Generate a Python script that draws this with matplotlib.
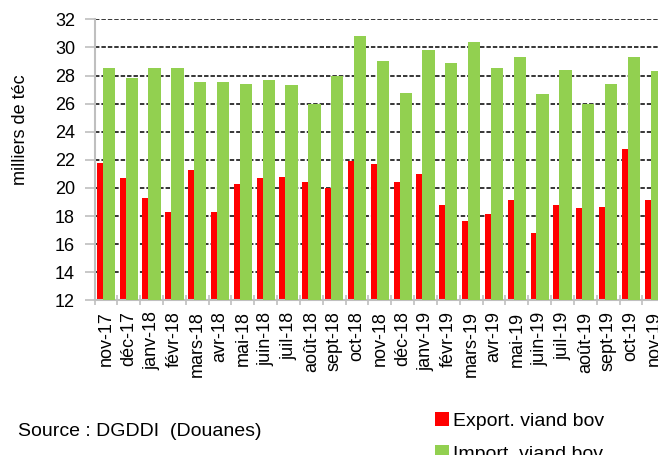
import matplotlib
matplotlib.use("Agg")
import matplotlib.pyplot as plt
import numpy as np

months = ["nov-17", "déc-17", "janv-18", "févr-18", "mars-18", "avr-18", "mai-18",
          "juin-18", "juil-18", "août-18", "sept-18", "oct-18", "nov-18", "déc-18",
          "janv-19", "févr-19", "mars-19", "avr-19", "mai-19", "juin-19", "juil-19",
          "août-19", "sept-19", "oct-19", "nov-19"]
export_vals = [21.8, 20.67, 19.3, 18.3, 21.3, 18.3, 20.3, 20.67, 20.8, 20.43, 20.0,
               21.9, 21.67, 20.43, 21.0, 18.8, 17.65, 18.15, 19.15, 16.8, 18.8,
               18.55, 18.65, 22.8, 19.15]
import_vals = [28.52, 27.8, 28.52, 28.52, 27.55, 27.55, 27.43, 27.67, 27.3, 25.95,
               28.0, 30.8, 29.02, 26.78, 29.8, 28.9, 30.4, 28.52, 29.3, 26.68,
               28.4, 26.0, 27.4, 29.3, 28.3]
yticks = [12, 14, 16, 18, 20, 22, 24, 26, 28, 30, 32]

plt.rcParams["font.family"] = ["Liberation Sans", "DejaVu Sans"]
FS = 13
FS2 = 14

W, H = 658, 455
fig = plt.figure(figsize=(W / 100, H / 100), dpi=100)
left_px, top_px, bottom_px, step = 94.5, 19.3, 300.3, 22.83
ax = fig.add_axes([left_px / W, (H - bottom_px) / H,
                   len(months) * step / W, (bottom_px - top_px) / H])

x = np.arange(len(months))
w = 0.54
ax.bar(x - 0.13, export_vals, width=w, color="#FF0000", zorder=2,
       label="Export. viand bov")
ax.bar(x + 0.13, import_vals, width=w, color="#92D050", zorder=3,
       label="Import. viand bov")

ax.set_ylim(12, 32)
ax.set_xlim(-0.5, len(months) - 0.5)
ax.set_yticks(yticks)
ax.set_yticklabels([str(v) for v in yticks], fontsize=FS)
ax.yaxis.grid(True, color="black", linestyle=(0, (2.9, 1.3)), linewidth=1.1, zorder=0)
ax.set_axisbelow(True)

ax.set_xticks(np.arange(-0.5, len(months), 1.0))
ax.set_xticklabels([])
ax.set_xticks(x, minor=True)
ax.set_xticklabels(months, minor=True, rotation=90, fontsize=FS, ha="center", va="top")
ax.tick_params(axis="x", which="major", direction="inout", length=7, color="#BFBFBF", width=1.2)
ax.tick_params(axis="x", which="minor", length=0, pad=8)
ax.tick_params(axis="y", direction="out", length=7, color="#BFBFBF", width=1.2, pad=7)

for s in ["top", "right"]:
    ax.spines[s].set_visible(False)
for s in ["left", "bottom"]:
    ax.spines[s].set_color("#BFBFBF")
    ax.spines[s].set_linewidth(1.5)

ax.set_ylabel("milliers de téc", fontsize=FS)
ax.yaxis.set_label_coords(-0.1156, 0.607)

fig.text(18 / W, 1 - 432 / H, "Source : DGDDI  (Douanes)", fontsize=FS2,
         ha="left", va="center")

fig.legend(loc="upper left", bbox_to_anchor=(435 / W, 1 - 412 / H), frameon=False,
           fontsize=FS2, handlelength=0.72, handleheight=0.72, handletextpad=0.2,
           labelspacing=0.78, borderpad=0, borderaxespad=0)

fig.savefig("out.png", dpi=100)
